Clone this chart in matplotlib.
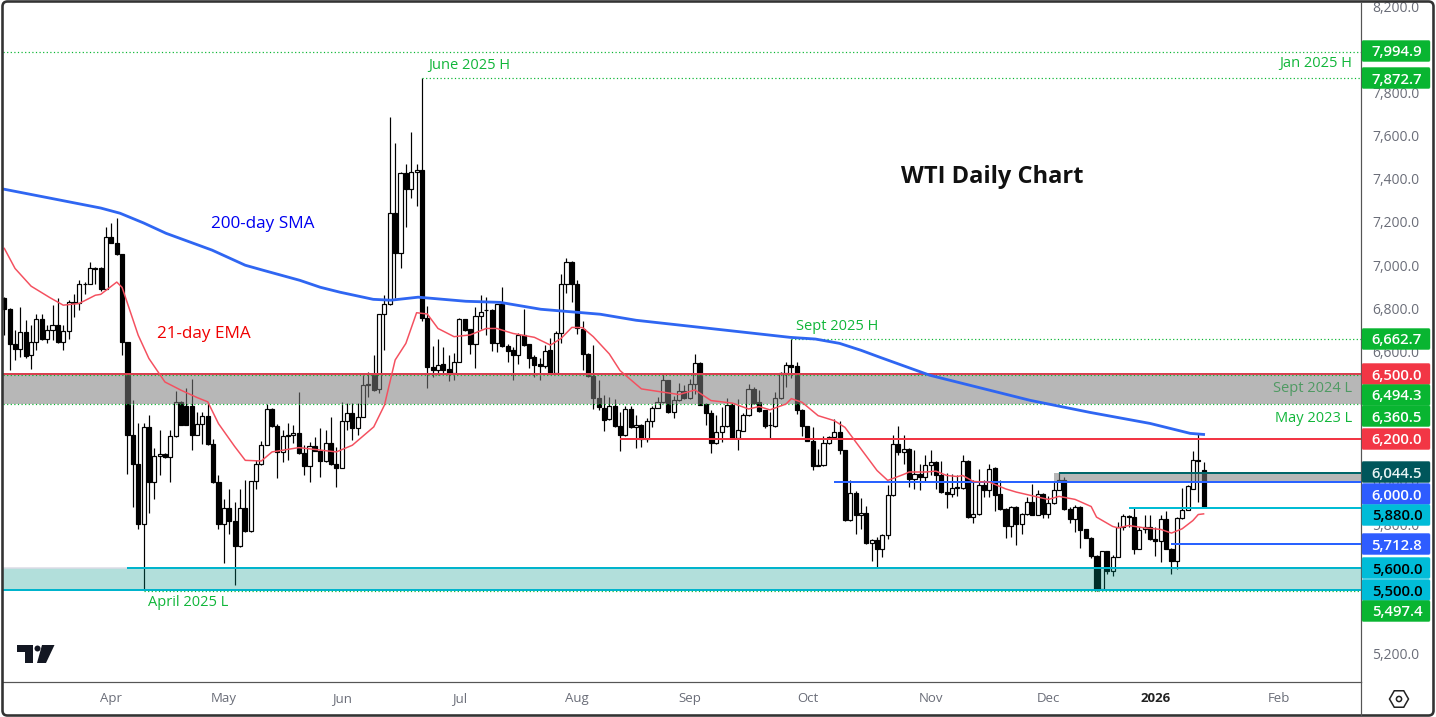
import matplotlib
matplotlib.use("Agg")
import matplotlib.pyplot as plt
from matplotlib.patches import FancyBboxPatch, Polygon, RegularPolygon, Circle, Rectangle
from matplotlib.transforms import ScaledTranslation
import numpy as np

opens = [6851,6801,6638,6617,6696,6587,6650,6758,6661,6704,
         6730,6650,6701,6835,6828,6917,6920,6990,6990,6897,
         7134,7109,7055,6650,6220,6086,5807,6256,6001,6121,
         6132,6117,6216,6373,6352,6352,6219,6271,6308,6178,
         6001,5807,5882,5820,5704,5882,5773,6005,6086,6174,
         6341,6262,6140,6216,6219,6227,6134,6077,6169,6146,
         6100,6180,6083,6064,6285,6319,6250,6300,6450,6496,
         6430,6777,6824,7246,7060,7431,7357,7436,7445,6759,
         6532,6519,6547,6522,6504,6558,6754,6708,6638,6771,
         6796,6798,6643,6824,6630,6612,6590,6680,6640,6578,
         6546,6539,6612,6504,6689,6917,7019,6917,6708,6596,
         6491,6392,6344,6293,6355,6260,6220,6339,6256,6265,
         6199,6284,6344,6370,6471,6324,6381,6423,6389,6455,
         6553,6362,6321,6180,6231,6259,6356,6203,6239,6311,
         6432,6370,6332,6263,6259,6390,6505,6543,6536,6336,
         6260,6192,6076,6079,6182,6208,6234,6149,5824,5950,
         5848,5857,5718,5732,5689,5756,5941,6178,6139,6155,
         6013,6036,6023,6081,6093,6031,5955,5946,5974,5974,
         6099,5838,5853,5989,5965,6064,5943,5877,5796,5886,
         5807,5852,5909,5849,5946,5852,5904,5965,6008,5877,
         5829,5887,5781,5742,5660,5504,5679,5587,5654,5792,
         5843,5839,5691,5784,5792,5737,5725,5830,5691,5634,
         5835,5872,5969,6104,6057]
highs = [6859,6805,6704,6812,6750,6727,6781,6781,6727,6820,
         6854,6727,6843,6874,6936,6928,7021,6998,6998,7180,
         7202,7222,7055,6650,6379,6274,6274,6313,6160,6240,
         6135,6240,6421,6375,6434,6480,6325,6325,6372,6202,
         6032,5923,5970,5908,5970,6008,6005,6101,6190,6364,
         6345,6268,6240,6273,6265,6417,6173,6188,6211,6250,
         6242,6301,6165,6373,6369,6366,6369,6496,6512,6589,
         6779,6867,7691,7570,7439,7475,7622,7475,7873,6816,
         6630,6661,6624,6589,6600,6759,6756,6710,6813,6867,
         6856,6800,6826,6906,6640,6625,6689,6801,6642,6589,
         6573,6635,6666,6702,6964,7037,7025,6937,6748,6600,
         6635,6473,6406,6393,6383,6324,6355,6355,6311,6268,
         6296,6355,6393,6506,6474,6401,6458,6448,6478,6594,
         6556,6367,6335,6313,6347,6390,6367,6383,6321,6455,
         6440,6427,6335,6324,6417,6509,6556,6663,6556,6340,
         6262,6257,6154,6216,6213,6293,6285,6151,6010,5961,
         5927,5891,5736,5744,5758,5985,6220,6258,6217,6158,
         6147,6085,6124,6147,6096,6098,6042,6036,6031,6124,
         6101,6011,6062,6008,6085,6070,6008,5880,5890,5888,
         5858,5931,5992,5965,5950,5938,6000,6047,6026,5887,
         5892,5890,5783,5745,5663,5683,5682,5663,5815,5853,
         5846,5887,5792,5846,5849,5792,5846,5864,5694,5838,
         5974,5985,6142,6221,6093]
lows = [6681,6519,6565,6580,6573,6526,6611,6658,6645,6658,
        6645,6611,6661,6766,6797,6871,6920,6920,6886,6893,
        7109,7052,6588,6039,5885,5784,5501,5857,5923,6032,
        6114,6001,6209,6263,6263,6148,6219,6178,6174,5996,
        5784,5625,5761,5524,5699,5769,5769,5970,6078,6171,
        6256,6019,6093,6103,6180,6131,6033,6002,6142,6026,
        6095,6080,5979,6064,6242,6196,6219,6300,6396,6423,
        6411,6612,6821,6852,6991,7184,7315,7281,6748,6437,
        6485,6496,6501,6470,6473,6558,6702,6593,6527,6708,
        6682,6609,6604,6628,6558,6473,6547,6633,6527,6488,
        6473,6527,6500,6500,6646,6878,6836,6686,6519,6488,
        6337,6334,6239,6290,6257,6146,6216,6251,6158,6165,
        6185,6254,6342,6368,6319,6296,6378,6386,6386,6409,
        6358,6267,6134,6177,6185,6257,6201,6151,6237,6308,
        6362,6324,6251,6200,6254,6386,6440,6483,6316,6216,
        6189,6056,6074,6076,6177,6205,6131,5818,5821,5760,
        5783,5713,5633,5602,5652,5737,5938,6124,6082,5977,
        5969,5962,6000,6031,5969,5949,5881,5931,5934,5969,
        5835,5810,5850,5931,5931,5866,5869,5742,5745,5711,
        5761,5850,5846,5846,5835,5835,5900,5962,5869,5810,
        5768,5696,5740,5650,5497,5502,5575,5566,5652,5779,
        5792,5668,5689,5764,5733,5660,5629,5688,5575,5598,
        5830,5869,5967,5907,5881]
closes = [6800,6638,6617,6696,6585,6650,6758,6661,6704,6730,
          6650,6701,6835,6828,6916,6920,6990,6988,6893,7134,
          7109,7055,6650,6217,6086,5807,6256,6001,6121,6132,
          6117,6216,6373,6266,6266,6219,6271,6308,6178,6001,
          5807,5882,5820,5704,5882,5773,6005,6086,6174,6341,
          6262,6140,6216,6219,6227,6134,6077,6169,6146,6100,
          6180,6083,6064,6285,6319,6250,6301,6450,6452,6427,
          6777,6824,7246,7060,7431,7357,7436,7445,6759,6532,
          6519,6544,6519,6504,6558,6754,6705,6638,6771,6790,
          6798,6643,6824,6630,6607,6589,6680,6635,6576,6544,
          6539,6609,6504,6689,6917,7019,6917,6712,6596,6491,
          6392,6346,6290,6352,6259,6220,6339,6254,6265,6200,
          6284,6344,6370,6471,6324,6381,6423,6389,6455,6553,
          6359,6319,6180,6231,6259,6356,6203,6242,6311,6432,
          6367,6328,6262,6265,6390,6505,6543,6533,6332,6259,
          6192,6076,6079,6182,6208,6231,6149,5824,5950,5846,
          5857,5718,5732,5690,5756,5941,6178,6139,6153,6013,
          6036,6023,6081,6093,6031,5954,5943,5974,5976,6099,
          5838,5853,5988,5965,6062,5940,5877,5796,5884,5807,
          5852,5909,5849,5946,5853,5904,5965,6008,5877,5827,
          5887,5779,5742,5657,5501,5679,5587,5654,5792,5843,
          5839,5691,5779,5792,5736,5725,5830,5691,5634,5835,
          5872,5980,6104,6098,5887]

sma_idx = [0,8.5,18,21.6,26,30.2,38.8,45,48.3,55.2,59,62.7,68.9,72.2,77.3,86.2,92.6,100.2,
           111.3,118,130,146.7,151.5,156,160,163.6,172.9,191.6,202.8,214,221.5,224]
sma_vals = [7357,7316,7270,7246,7201,7153,7075,7005,6982,6935,6903,6880,6847,6843,6857,6838,6833,6801,
            6778,6750,6717,6671,6663,6643,6611,6578,6495,6379,6323,6272,6226,6221]

ema_idx = [0,2,5,8.5,11,14,17,18,21,22,25,27,30,33,36,38,40,43,45,48,50,55,
           62,65,69,71,73,75,77,79,81,84,87,90,92,95,99,102,104,106,108,110,
           113,115,119,123,126,129,132,136,139,141,143,146,147,149,152,155,157,160,163,
           165,168,169,172,174,176,178,179,181,184,187,189,193,195,197,200,203,204,207,
           208,210,213,216,218,220,222,223,224]
ema_vals = [7083,6990,6908,6855,6820,6828,6866,6870,6927,6902,6681,6573,6464,6426,6392,6372,6271,6166,6101,6098,6140,6160,
            6140,6171,6256,6357,6566,6643,6785,6779,6712,6674,6682,6712,6712,6689,6671,6635,6666,6717,6716,6674,
            6594,6517,6432,6417,6406,6427,6378,6366,6339,6350,6335,6362,6387,6370,6308,6285,6254,6154,6054,
            6008,6036,6047,6047,6051,6031,6026,6031,6003,6000,5969,5954,5931,5920,5934,5920,5887,5838,5795,
            5788,5799,5788,5781,5764,5784,5822,5850,5853]

level_vals = [7994.9, 7872.7, 6662.7, 6494.3, 6360.5, 5497.4]
level_starts = [-0.25, 78, 147, -0.25, -0.25, 26]
solid_vals = [6500, 6200, 6044.5, 6000, 5880, 5712.8, 5600, 5500]
solid_starts = [-0.25, 115, 197, 155, 210, 218, 23, -0.25]
solid_colors = ["#d8404f", "#f23645", "#00666a", "#2962ff", "#00bcd4", "#2962ff", "#00b4cc", "#00b4cc"]

tag_vals = ["7,994.9", "7,872.7", "6,662.7", "6,500.0", "6,494.3", "6,360.5", "6,200.0",
            "6,044.5", "6,000.0", "5,880.0", "5,712.8", "5,600.0", "5,500.0", "5,497.4"]
tag_y = [51, 78, 339, 374, 395, 416, 439, 472, 494, 515, 544, 568, 590, 611]
tag_colors = ["#09b531", "#09b531", "#09b531", "#f23645", "#09b531", "#09b531", "#f23645",
              "#00565b", "#2e5cff", "#00bcd8", "#2e5cff", "#00bcd8", "#00bcd8", "#09b531"]
tag_text = ["white", "white", "white", "white", "white", "white", "white",
            "#e8f4f4", "white", "black", "white", "black", "black", "white"]

# the other round prices sit fully behind the tags in the reference
y_ticks = [5200, 5800, 6000, 6600, 6800, 7000, 7200, 7400, 7600, 7800, 8200]

month_pos = [20, 41, 63, 85, 107, 128, 150, 173, 195, 215, 238]
month_labels = ["Apr", "May", "Jun", "Jul", "Aug", "Sep", "Oct", "Nov", "Dec", "2026", "Feb"]

plt.rcParams['font.family'] = ['Open Sans', 'DejaVu Sans']
W, H = 1436, 717
fig = plt.figure(figsize=(W / 100, H / 100), dpi=100, facecolor="white")
ax = fig.add_axes([3 / W, 1 - 682 / H, (1361 - 3) / W, (682 - 3) / H])

idx = np.arange(len(opens))
o = np.array(opens)
c = np.array(closes)
up = c >= o
px = 0.72

ax.vlines(idx, lows, highs, color="black", lw=1.2 * px, zorder=2)
body_bot = np.minimum(o, c)
body_h = np.maximum(np.abs(c - o), 3)
ax.bar(idx[up], body_h[up], bottom=body_bot[up], width=0.76, facecolor="white", edgecolor="black", lw=1.2 * px, zorder=3)
ax.bar(idx[~up], body_h[~up], bottom=body_bot[~up], width=0.76, facecolor="black", edgecolor="black", lw=1.2 * px, zorder=3)

# zones sit over the candles
ax.axhspan(6360.5, 6500, color="#7d7d7d", alpha=0.55, lw=0, zorder=4)
ax.axhspan(5500, 5600, color="#009688", alpha=0.3, lw=0, zorder=4)
ax.add_patch(Rectangle((196, 6000), 260, 44.5, facecolor="#7d7d7d", alpha=0.55, lw=0, zorder=4))

for v, s in zip(level_vals, level_starts):
    ax.hlines(v, s, 254, color="#09b531", lw=1.2 * px, linestyle=(0, (1, 2)), zorder=5)
for v, s, col in zip(solid_vals, solid_starts, solid_colors):
    ax.hlines(v, s, 254, color=col, lw=2.0 * px, zorder=5)
ax.hlines(5600, -0.25, 23, color="#dcdce6", lw=1.5 * px, zorder=5)

ax.plot(sma_idx, sma_vals, color="#2f66f2", lw=2.8 * px, zorder=6, solid_joinstyle="round")
ax.plot(ema_idx, ema_vals, color="#f4505f", lw=1.5 * px, zorder=6, solid_joinstyle="round")

ax.set_xlim(-0.25, 253.4)
ax.set_ylim(5074, 8220)
ax.yaxis.tick_right()
ax.set_yticks(y_ticks)
ax.set_yticklabels(["{:,.1f}".format(v) for v in y_ticks])
ax.tick_params(axis="y", length=0, pad=8, labelsize=10, labelcolor="#6a6d78")
for lbl in ax.get_yticklabels():
    lbl.set_transform(lbl.get_transform() + ScaledTranslation(0, 1.3 / 100, fig.dpi_scale_trans))
ax.set_xticks(month_pos)
ax.set_xticklabels(month_labels)
ax.tick_params(axis="x", length=0, pad=7.5, labelsize=9.5, labelcolor="#6a6d78")
ax.get_xticklabels()[9].set_fontweight("bold")
ax.get_xticklabels()[9].set_color("#222222")
for side in ["top", "left"]:
    ax.spines[side].set_visible(False)
ax.spines["right"].set_color("#555555")
ax.spines["bottom"].set_color("#555555")
ax.spines["right"].set_linewidth(1.2 * px)
ax.spines["bottom"].set_linewidth(1.2 * px)

# overlay in pixel coords for tags, notes, logo, frame
ov = fig.add_axes([0, 0, 1, 1], facecolor="none")
ov.set_xlim(0, W)
ov.set_ylim(H, 0)
ov.axis("off")

ov.plot([1361, 1361], [682, 715], color="#555555", lw=1.2 * px)

for t, y, col, tc in zip(tag_vals, tag_y, tag_colors, tag_text):
    ov.add_patch(FancyBboxPatch((1362, y - 10.5), 68, 21, boxstyle="round,pad=0,rounding_size=1.5",
                                facecolor=col, edgecolor=col, lw=0.3))
    ov.text(1397, y, t, color=tc, fontsize=10.7, fontweight="semibold", ha="center", va="center_baseline")

green = "#11b63a"
ov.text(428, 66, "June 2025 H", color=green, fontsize=10.5, va="center")
ov.text(1352, 64, "Jan 2025 H", color=green, fontsize=10.5, va="center", ha="right")
ov.text(796, 327, "Sept 2025 H", color=green, fontsize=10.5, va="center")
ov.text(1352, 388, "Sept 2024 L", color="#4f9a63", fontsize=10.5, va="center", ha="right")
ov.text(1352, 418, "May 2023 L", color=green, fontsize=10.5, va="center", ha="right")
ov.text(148, 603, "April 2025 L", color=green, fontsize=10.5, va="center")
ov.text(211, 224, "200-day SMA", color="#0000f0", fontsize=12.3, fontweight="medium", va="center")
ov.text(157, 334, "21-day EMA", color="#f00000", fontsize=12.3, fontweight="medium", va="center")
ov.text(901, 177, "WTI Daily Chart", color="#111111", fontsize=17, fontweight="bold", va="center")

# logo
ov.add_patch(Polygon([(17, 645), (33, 645), (33, 663), (25, 663), (25, 652), (17, 652)], facecolor="#131722", lw=0))
ov.add_patch(Circle((37.5, 648.5), 3, facecolor="#131722", lw=0))
ov.add_patch(Polygon([(42, 645), (54.5, 645), (46, 663), (37, 663)], facecolor="#131722", lw=0))

# settings icon
ov.add_patch(RegularPolygon((1399, 699), 6, radius=9.5, orientation=np.pi / 6, fill=False, edgecolor="#222222", lw=1.1))
ov.add_patch(Circle((1399, 699), 2.6, fill=False, edgecolor="#222222", lw=1.1))

# outer frame
ov.add_patch(Rectangle((0, 0), W, 2, facecolor="white", lw=0))
ov.add_patch(FancyBboxPatch((2.5, 1.5), W - 5, H - 3, boxstyle="round,pad=0,rounding_size=5",
                            fill=False, edgecolor="#333333", lw=2.0 * px * 1.3))

fig.savefig("out.png", dpi=100)
